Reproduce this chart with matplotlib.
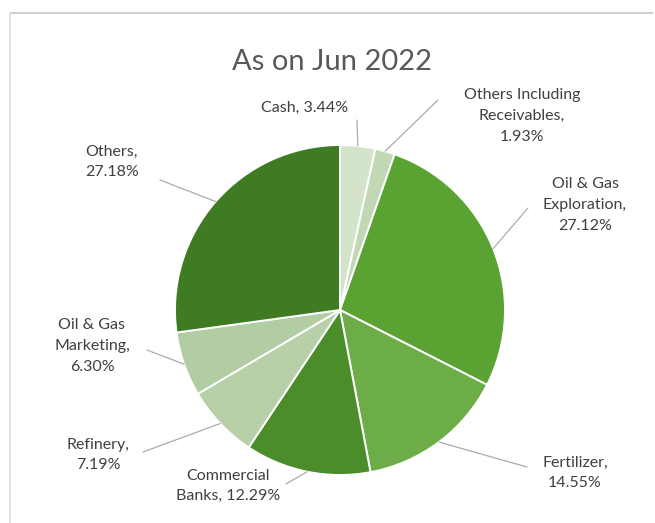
import numpy as np
import matplotlib.pyplot as plt
from matplotlib.patches import ConnectionPatch
from matplotlib.lines import Line2D

plt.rcParams['font.family'] = ['Lato', 'DejaVu Sans']

# portfolio mix as on Jun 2022 (clockwise from 12 o'clock)
labels = ['Cash, 3.44%', 'Others Including\nReceivables,\n1.93%',
          'Oil & Gas\nExploration,\n27.12%', 'Fertilizer,\n14.55%',
          'Commercial\nBanks, 12.29%', 'Refinery,\n7.19%',
          'Oil & Gas\nMarketing,\n6.30%', 'Others,\n27.18%']
shares = [3.44, 1.93, 27.12, 14.55, 12.29, 7.19, 6.30, 27.18]
colors = ['#d3e4cb', '#c2d8b5', '#5aa232', '#6cad47',
          '#4a8d2a', '#b7d0a8', '#b2cca3', '#3e7b23']

W, H = 655, 523
fig = plt.figure(figsize=(W / 100, H / 100), dpi=100)

# pie centred at (340, 310) px with radius 165 px
cx, cy, r = 340, 310, 165
ax = fig.add_axes([(cx - r) / W, (H - cy - r) / H, 2 * r / W, 2 * r / H])
wedges, _ = ax.pie(shares, colors=colors, startangle=90, counterclock=False,
                   wedgeprops=dict(edgecolor='white', linewidth=1.4))
ax.set_xlim(-1, 1)
ax.set_ylim(-1, 1)
ax.set_aspect('equal')

fig.text(332 / W, 1 - 62 / H, 'As on Jun 2022', ha='center', va='center',
         fontsize=21, color='#595959')

# text centre, leader start (px from top-left), text alignment
label_pos = [
    ((305, 108), (357, 120), 'center'),
    ((522, 116), (438, 100), 'center'),
    ((585, 205), (528, 208), 'center'),
    ((575, 473), (527, 467), 'center'),
    ((228, 486), (286, 484), 'center'),
    ((98, 455), (143, 452), 'center'),
    ((92, 346), (147, 350), 'center'),
    ((112, 162), (160, 180), 'center'),
]

for w, lab, (tpos, lpos, ha) in zip(wedges, labels, label_pos):
    ang = np.deg2rad((w.theta1 + w.theta2) / 2)
    edge = (np.cos(ang), np.sin(ang))
    fig.text(tpos[0] / W, 1 - tpos[1] / H, lab, ha=ha, va='center',
             fontsize=11.5, color='#404040', linespacing=1.6)
    con = ConnectionPatch(xyA=(lpos[0], H - lpos[1]), coordsA='figure pixels',
                          xyB=edge, coordsB=ax.transData,
                          color='#b0a8ae', linewidth=0.9)
    fig.add_artist(con)

# faint frame around the chart
fig.add_artist(Line2D([10 / W, 652 / W], [1 - 13 / H, 1 - 13 / H],
                      color='#cfcfcf', linewidth=1.5))
fig.add_artist(Line2D([10 / W, 10 / W], [0, 1 - 13 / H],
                      color='#e3e3e3', linewidth=1.5))

fig.savefig('out.png', dpi=100)
